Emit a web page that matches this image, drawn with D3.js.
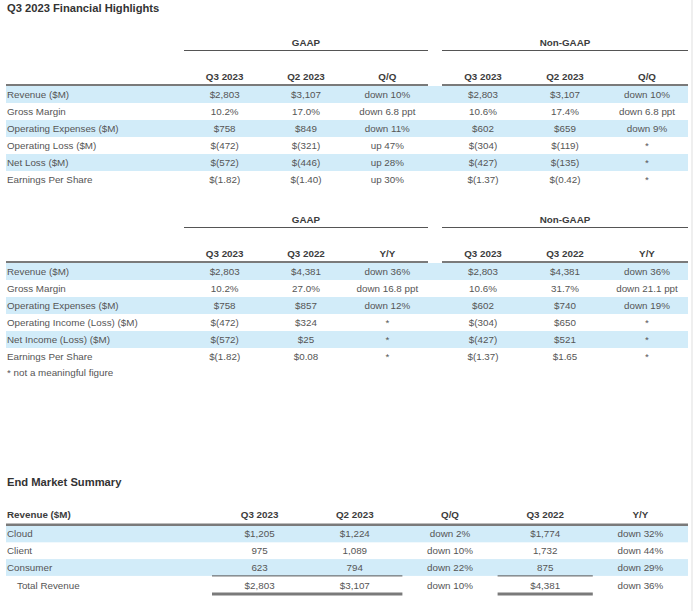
<!DOCTYPE html>
<html><head><meta charset="utf-8">
<script src="https://cdn.jsdelivr.net/npm/d3@7"></script>
<style>
body{margin:0;background:#fff;}
svg{display:block;font-family:"Liberation Sans",Arial,Helvetica,sans-serif;}
</style></head>
<body>
<script>
// ---------- DATA ----------
const title1 = "Q3 2023 Financial Highlights";
const groups = ["GAAP", "Non-GAAP"];
const colHeadsQ = ["Q3 2023", "Q2 2023", "Q/Q"];
const colHeadsY = ["Q3 2023", "Q3 2022", "Y/Y"];

const labelsQ = ["Revenue ($M)", "Gross Margin", "Operating Expenses ($M)", "Operating Loss ($M)", "Net Loss ($M)", "Earnings Per Share"];
const gaapQ3_2023 = ["$2,803", "10.2%", "$758", "$(472)", "$(572)", "$(1.82)"];
const gaapQ2_2023 = ["$3,107", "17.0%", "$849", "$(321)", "$(446)", "$(1.40)"];
const gaapQoQ = ["down 10%", "down 6.8 ppt", "down 11%", "up 47%", "up 28%", "up 30%"];
const ngQ3_2023 = ["$2,803", "10.6%", "$602", "$(304)", "$(427)", "$(1.37)"];
const ngQ2_2023 = ["$3,107", "17.4%", "$659", "$(119)", "$(135)", "$(0.42)"];
const ngQoQ = ["down 10%", "down 6.8 ppt", "down 9%", "*", "*", "*"];

const labelsY = ["Revenue ($M)", "Gross Margin", "Operating Expenses ($M)", "Operating Income (Loss) ($M)", "Net Income (Loss) ($M)", "Earnings Per Share"];
const gaapQ3_2022 = ["$4,381", "27.0%", "$857", "$324", "$25", "$0.08"];
const gaapYoY = ["down 36%", "down 16.8 ppt", "down 12%", "*", "*", "*"];
const ngQ3_2022 = ["$4,381", "31.7%", "$740", "$650", "$521", "$1.65"];
const ngYoY = ["down 36%", "down 21.1 ppt", "down 19%", "*", "*", "*"];
const footnote = "* not a meaningful figure";

const title2 = "End Market Summary";
const emHead = "Revenue ($M)";
const emCols = ["Q3 2023", "Q2 2023", "Q/Q", "Q3 2022", "Y/Y"];
const segments = ["Cloud", "Client", "Consumer", "Total Revenue"];
const emQ3_2023 = ["$1,205", "975", "623", "$2,803"];
const emQ2_2023 = ["$1,224", "1,089", "794", "$3,107"];
const emQoQ = ["down 2%", "down 10%", "down 22%", "down 10%"];
const emQ3_2022 = ["$1,774", "1,732", "875", "$4,381"];
const emYoY = ["down 32%", "down 44%", "down 29%", "down 36%"];

// ---------- STYLE ----------
const W = 700, H = 611;
const FS = 9.8;
const cText = "#555", cHead = "#3c3c3c", cTitle = "#333", cBand = "#d2ecf9", cRule = "#7a7a7a", cThin = "#555";

const svg = d3.select("body").append("svg").attr("width", W).attr("height", H);
svg.append("rect").attr("width", W).attr("height", H).attr("fill", "#fff");
svg.append("rect").attr("x", 691).attr("y", 0).attr("width", 2).attr("height", H).attr("fill", "#efefef");

function txt(g, x, y, s, opt = {}) {
  return g.append("text").attr("x", x).attr("y", y).text(s)
    .attr("font-size", opt.fs || FS)
    .attr("font-weight", opt.bold ? "bold" : "normal")
    .attr("fill", opt.fill || cText)
    .attr("text-anchor", opt.anchor || "start");
}

txt(svg, 7, 12, title1, {fs: 11.2, bold: true, fill: cTitle});

function finTable(top, labels, heads, gCols, ngCols) {
  const g = svg.append("g");
  const labelX = 7, bandX0 = 6, bandX1 = 688;
  const gx = d3.scaleBand().domain([0, 1, 2]).range([184, 428]);
  const nx = d3.scaleBand().domain([0, 1, 2]).range([442, 688]);
  const rowTop = top + 41;
  const y = d3.scaleBand().domain(d3.range(labels.length)).range([rowTop, rowTop + 17 * labels.length]);

  // row bands
  g.selectAll("rect.band").data(d3.range(labels.length).filter(i => i % 2 === 0)).join("rect")
    .attr("x", bandX0).attr("width", bandX1 - bandX0)
    .attr("y", i => y(i)).attr("height", y.bandwidth()).attr("fill", cBand);

  // group headers + lines
  [[gx, groups[0]], [nx, groups[1]]].forEach(([sc, name]) => {
    const [a, b] = sc.range();
    txt(g, (a + b) / 2, top + 0.5, name, {bold: true, fill: cHead, anchor: "middle"});
    g.append("line").attr("x1", a).attr("x2", b).attr("y1", top + 5.5).attr("y2", top + 5.5)
      .attr("stroke", cThin).attr("stroke-width", 1);
    heads.forEach((h, i) => txt(g, sc(i) + sc.bandwidth() / 2, top + 35, h, {bold: true, fill: cHead, anchor: "middle"}));
  });
  // header underline
  g.append("line").attr("x1", bandX0).attr("x2", 428).attr("y1", rowTop - 1).attr("y2", rowTop - 1).attr("stroke", cRule).attr("stroke-width", 2.2);
  g.append("line").attr("x1", 442).attr("x2", 688).attr("y1", rowTop - 1).attr("y2", rowTop - 1).attr("stroke", cRule).attr("stroke-width", 2.2);

  labels.forEach((l, r) => {
    const by = y(r) + y.bandwidth() / 2 + 3.5;
    txt(g, labelX, by, l);
    gCols.forEach((col, c) => txt(g, gx(c) + gx.bandwidth() / 2, by, col[r], {anchor: "middle"}));
    ngCols.forEach((col, c) => txt(g, nx(c) + nx.bandwidth() / 2, by, col[r], {anchor: "middle"}));
  });
  return rowTop + 17 * labels.length;
}

finTable(45, labelsQ, colHeadsQ, [gaapQ3_2023, gaapQ2_2023, gaapQoQ], [ngQ3_2023, ngQ2_2023, ngQoQ]);
const end2 = finTable(222, labelsY, colHeadsY, [gaapQ3_2023, gaapQ3_2022, gaapYoY], [ngQ3_2023, ngQ3_2022, ngYoY]);
txt(svg, 7, end2 + 11, footnote);

// ---------- End Market Summary ----------
txt(svg, 7, 486, title2, {fs: 11.2, bold: true, fill: cTitle});
const em = svg.append("g");
const ex = d3.scaleBand().domain(d3.range(emCols.length)).range([212, 688]);
const ey = d3.scaleBand().domain(d3.range(segments.length)).range([525.5, 525.5 + 16.8 * 4]);
em.selectAll("rect.band").data([0, 2]).join("rect")
  .attr("x", 6).attr("width", 682).attr("y", i => ey(i)).attr("height", ey.bandwidth()).attr("fill", cBand);
txt(em, 7, 518, emHead, {bold: true, fill: cHead});
emCols.forEach((h, i) => txt(em, ex(i) + ex.bandwidth() / 2, 518, h, {bold: true, fill: cHead, anchor: "middle"}));
em.append("line").attr("x1", 6).attr("x2", 688).attr("y1", 524.8).attr("y2", 524.8).attr("stroke", cRule).attr("stroke-width", 2.4);

const emData = [emQ3_2023, emQ2_2023, emQoQ, emQ3_2022, emYoY];
segments.forEach((s, r) => {
  const isTotal = r === segments.length - 1;
  const by = ey(r) + ey.bandwidth() / 2 + 3.5 + (isTotal ? 1 : 0);
  txt(em, isTotal ? 17 : 7, by, s);
  emData.forEach((col, c) => txt(em, ex(c) + ex.bandwidth() / 2, by, col[r], {anchor: "middle"}));
});
// total rules under Q3 2023+Q2 2023, and Q3 2022
const totalTop = ey(segments.length - 1);
[[ex(0), ex(1) + ex.bandwidth()], [ex(3), ex(3) + ex.bandwidth()]].forEach(([a, b]) => {
  em.append("line").attr("x1", a).attr("x2", b).attr("y1", totalTop).attr("y2", totalTop).attr("stroke", cThin).attr("stroke-width", 1);
  em.append("line").attr("x1", a).attr("x2", b).attr("y1", 594).attr("y2", 594).attr("stroke", cRule).attr("stroke-width", 3);
});
</script>
</body></html>
